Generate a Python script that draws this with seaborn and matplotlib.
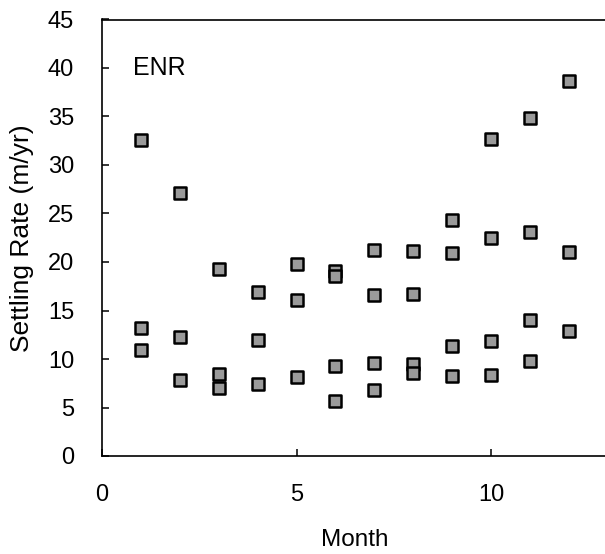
import matplotlib
matplotlib.use("Agg")
import matplotlib.pyplot as plt
import seaborn as sns
import pandas as pd

# Data
month = [1, 1, 1,
         2, 2, 2,
         3, 3, 3,
         4, 4, 4,
         5, 5, 5,
         6, 6, 6, 6,
         7, 7, 7, 7,
         8, 8, 8, 8,
         9, 9, 9, 9,
         10, 10, 10, 10,
         11, 11, 11, 11,
         12, 12, 12]
rate = [32.6, 13.2, 10.9,
        27.1, 12.3, 7.8,
        19.3, 8.5, 7.0,
        16.9, 12.0, 7.4,
        19.8, 16.1, 8.1,
        19.1, 18.6, 9.3, 5.7,
        21.2, 16.6, 9.6, 6.8,
        21.1, 16.7, 9.5, 8.6,
        24.3, 20.9, 11.3, 8.2,
        32.7, 22.5, 11.9, 8.4,
        34.8, 23.1, 14.0, 9.8,
        38.7, 21.0, 12.9]
x_ticks = [0, 5, 10]
y_ticks = [0, 5, 10, 15, 20, 25, 30, 35, 40, 45]

df = pd.DataFrame({"Month": month, "Rate": rate})

sns.set_style("ticks")
plt.rcParams["font.family"] = ["Liberation Sans", "DejaVu Sans"]
plt.rcParams["text.color"] = "black"
plt.rcParams["axes.labelcolor"] = "black"

fig = plt.figure(figsize=(6.05, 5.54), dpi=100)
ax = fig.add_axes([102 / 605, 98 / 554, 505.7 / 605, 436.5 / 554])

sns.scatterplot(data=df, x="Month", y="Rate", ax=ax, marker="s", s=78,
                color="#9a9a9a", edgecolor="black", linewidth=1.8, zorder=3)

ax.set_xlim(0, 13)
ax.set_ylim(0, 45)
ax.set_xticks(x_ticks)
ax.set_yticks(y_ticks)
ax.tick_params(direction="in", length=5, width=1.1, labelsize=17,
               colors="black", labelcolor="black")
ax.tick_params(axis="x", pad=20)
ax.tick_params(axis="y", pad=20)
for side in ["left", "bottom", "top"]:
    ax.spines[side].set_visible(True)
    ax.spines[side].set_color("black")
    ax.spines[side].set_linewidth(1.2)
ax.spines["right"].set_visible(False)

ax.set_xlabel("Month", fontsize=17.5, labelpad=17, color="black")
ax.set_ylabel("Settling Rate (m/yr)", fontsize=19, labelpad=10, color="black")
ax.text(0.8, 40, "ENR", fontsize=18, ha="left", va="center", color="black")

fig.savefig("out.png", dpi=100)
